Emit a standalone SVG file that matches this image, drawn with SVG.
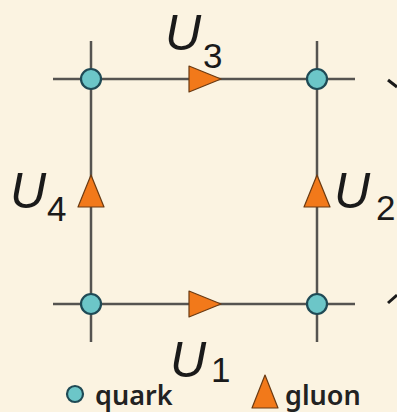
<svg xmlns="http://www.w3.org/2000/svg" width="397" height="412" viewBox="0 0 397 412">
<style>
.ln{stroke:#555350;stroke-width:2.5;fill:none}
.q{fill:#6CC6C8;stroke:#1F4A55;stroke-width:2.2}
.g{fill:#F2791A;stroke:#6A3A12;stroke-width:1.2;stroke-linejoin:round}
.U{font-family:"Liberation Sans",Arial,sans-serif;font-style:italic;font-size:50px;fill:#1a1a1a}
.s{font-family:"Liberation Sans",Arial,sans-serif;font-size:35px;fill:#1a1a1a}
.lg{font-family:"Noto Sans","Liberation Sans",sans-serif;font-weight:600;font-size:27px;fill:#222}
</style>
<rect width="397" height="412" fill="#FBF3E1"/>
<g id="connectors">
<line class="ln" x1="53" y1="79" x2="355" y2="79"/>
<line class="ln" x1="53" y1="304" x2="355" y2="304"/>
<line class="ln" x1="91" y1="41" x2="91" y2="342"/>
<line class="ln" x1="317" y1="41" x2="317" y2="342"/>
</g>
<g id="q1"><circle class="q" cx="91" cy="79" r="10"/></g>
<g id="q2"><circle class="q" cx="317" cy="79" r="10"/></g>
<g id="q3"><circle class="q" cx="91" cy="304" r="10"/></g>
<g id="q4"><circle class="q" cx="317" cy="304" r="10"/></g>
<g id="g3"><polygon class="g" points="189,66 221,79 189,92"/><text class="U" x="165" y="50">U</text><text class="s" x="203" y="68">3</text></g>
<g id="g1"><polygon class="g" points="189,291 221,304 189,317"/><text class="U" x="170" y="377">U</text><text class="s" x="211" y="382">1</text></g>
<g id="g4"><polygon class="g" points="91,175 104,207 78,207"/><text class="U" x="10" y="208">U</text><text class="s" x="47" y="221">4</text></g>
<g id="g2"><polygon class="g" points="317,175 330,207 304,207"/><text class="U" x="334" y="208">U</text><text class="s" x="376" y="220">2</text></g>
<g id="edge-marks">
<line x1="388" y1="80" x2="397" y2="87" stroke="#1a1a1a" stroke-width="3"/>
<line x1="388" y1="303" x2="397" y2="295" stroke="#1a1a1a" stroke-width="3"/>
</g>
<g id="legend">
<circle class="q" cx="75" cy="394" r="8"/>
<text class="lg" x="95" y="405">quark</text>
<polygon class="g" points="265,375 278,408 252,408"/>
<text class="lg" x="285" y="405">gluon</text>
</g>
</svg>
